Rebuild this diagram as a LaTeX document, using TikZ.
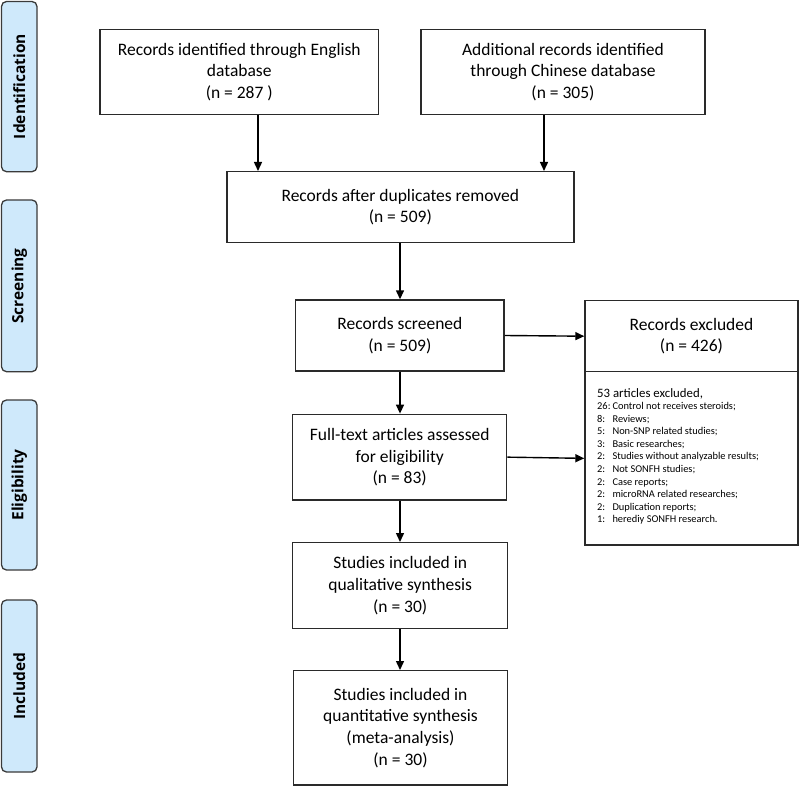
\documentclass[tikz,border=0pt]{standalone}
\usepackage{fontspec}
\setmainfont{Carlito}
\newfontfamily\sidefont{Open Sans}
\usetikzlibrary{arrows.meta}
\definecolor{sidefill}{HTML}{CFE9FB}
\definecolor{sideline}{HTML}{3A3A3A}
\definecolor{boxline}{HTML}{2A2A2A}
\tikzset{
  side/.style={draw=sideline, line width=1.3pt, fill=sidefill, rounded corners=5pt},
  sidelabel/.style={rotate=90, font=\sidefont\bfseries\fontsize{15.5}{17}\selectfont, text=black},
  flowbox/.style={draw=boxline, line width=1.4pt, align=center, inner sep=0pt,
     font=\fontsize{17.5}{21.7}\selectfont},
  arr/.style={draw=black, line width=1.4pt, -{Triangle[length=9pt,width=8pt]}},
}
\begin{document}
\begin{tikzpicture}[x=1pt,y=-1pt]
\useasboundingbox (0,0) rectangle (800,786);
% sidebars
\draw[side] (1.5,1.5) rectangle (37,171.7);
\node[sidelabel] (sid) at (19.3,86.5) {Identification};
\draw[side] (1.5,200) rectangle (37,371.7);
\node[sidelabel] (sscr) at (19.3,286) {Screening};
\draw[side] (1.5,400) rectangle (37,570);
\node[sidelabel] (sel) at (19.3,485) {Eligibility};
\draw[side] (1.5,600) rectangle (37,772);
\node[sidelabel] (sinc) at (19.3,686) {Included};
% boxes
\node[flowbox, minimum width=278.5pt, minimum height=85.2pt] (eng) at (239.25,72)
  {Records identified through English\\database\\(n = 287 )};
\node[flowbox, minimum width=284pt, minimum height=85.2pt] (chn) at (563,72)
  {Additional records identified\\through Chinese database\\(n = 305)};
\node[flowbox, minimum width=347pt, minimum height=71pt] (dup) at (400.3,207.2)
  {Records after duplicates removed\\(n = 509)};
\node[flowbox, minimum width=208.3pt, minimum height=71pt] (scr) at (399.9,335.5)
  {Records screened\\(n = 509)};
\node[flowbox, minimum width=213pt, minimum height=71pt] (exc) at (691.5,336.2)
  {Records excluded\\(n = 426)};
\node[flowbox, minimum width=213pt, minimum height=173.3pt] (lst) at (691.5,458.35) {};
\node[flowbox, minimum width=214pt, minimum height=85.7pt] (ft) at (399.7,457.15)
  {Full-text articles assessed\\for eligibility\\(n = 83)};
\node[flowbox, minimum width=215pt, minimum height=85.6pt] (qual) at (400.2,585.5)
  {Studies included in\\qualitative synthesis\\(n = 30)};
\node[flowbox, minimum width=214.4pt, minimum height=114.3pt] (quant) at (400.5,727.85)
  {Studies included in\\quantitative synthesis\\(meta-analysis)\\(n = 30)};
% exclusion list
\node[anchor=base west, inner sep=0pt, font=\fontsize{12.8}{15}\selectfont] (lt) at (597,397.5)
  {53 articles excluded,};
\node[anchor=north west, inner sep=0pt, font=\fontsize{10.4}{12.6}\selectfont] (ll) at (597,400.5)
  {\begin{tabular}{@{}l@{\hspace{2pt}}l@{}}
  26:&Control not receives steroids;\\
  8:&Reviews;\\
  5:&Non-SNP related studies;\\
  3:&Basic researches;\\
  2:&Studies without analyzable results;\\
  2:&Not SONFH studies;\\
  2:&Case reports;\\
  2:&microRNA related researches;\\
  2:&Duplication reports;\\
  1:&herediy SONFH research.
  \end{tabular}};
% arrow columns
\coordinate (c1) at (258,0);
\coordinate (c2) at (544,0);
\coordinate (c3) at (400,0);
\draw[arr] (eng.south -| c1) -- (dup.north -| c1);
\draw[arr] (chn.south -| c2) -- (dup.north -| c2);
\draw[arr] (dup.south -| c3) -- (scr.north -| c3);
\draw[arr] (scr.east) -- (exc.west);
\draw[arr] (scr.south -| c3) -- (ft.north -| c3);
\draw[arr] (ft.east) -- (lst.west);
\draw[arr] (ft.south -| c3) -- (qual.north -| c3);
\draw[arr] (qual.south -| c3) -- (quant.north -| c3);
\end{tikzpicture}
\end{document}
